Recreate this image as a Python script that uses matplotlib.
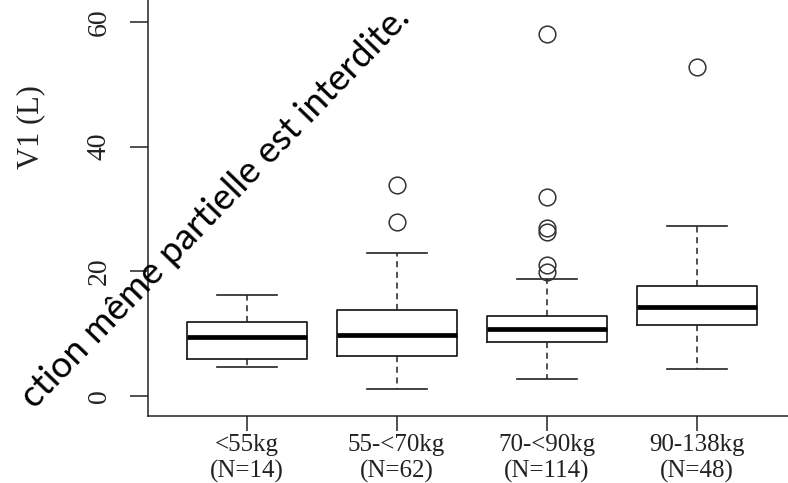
import matplotlib
matplotlib.use("Agg")
import matplotlib.pyplot as plt

# values
groups = ["<55kg\n(N=14)", "55-<70kg\n(N=62)", "70-<90kg\n(N=114)", "90-138kg\n(N=48)"]
q1 = [5.9, 6.5, 8.7, 11.4]
med = [9.5, 9.8, 10.7, 14.2]
q3 = [11.8, 13.8, 12.9, 17.7]
whislo = [4.6, 1.2, 2.8, 4.4]
whishi = [16.2, 23.0, 18.7, 27.2]
outliers = [
    [],
    [33.8, 27.9],
    [58.1, 31.9, 26.9, 26.3, 21.0, 19.9],
    [52.7],
]

stats = []
for i in range(len(groups)):
    stats.append({"q1": q1[i], "med": med[i], "q3": q3[i],
                  "whislo": whislo[i], "whishi": whishi[i],
                  "fliers": outliers[i]})

plt.rcParams['font.family'] = ['Liberation Serif', 'DejaVu Serif']

fig = plt.figure(figsize=(7.88, 4.83), dpi=100)
ax = fig.add_axes([0.1878, 0.1387, 0.8122, 0.8613])

ax.bxp(stats, positions=[1, 2, 3, 4], widths=0.8, showfliers=True,
       boxprops=dict(color='#222222', linewidth=1.3),
       medianprops=dict(color='black', linewidth=3.4),
       whiskerprops=dict(color='#222222', linewidth=1.1, linestyle=(0, (4, 3))),
       capprops=dict(color='#222222', linewidth=1.2),
       capwidths=0.4,
       flierprops=dict(marker='o', markersize=12, markerfacecolor='none',
                       markeredgecolor='#333333', markeredgewidth=1.1))

ax.set_xlim(0.342, 4.61)
ax.set_ylim(-3.2, 63.5)
ax.set_yticks([0, 20, 40, 60])
ax.set_yticklabels(["0", "20", "40", "60"], rotation=90, va='center')
ax.set_xticks([1, 2, 3, 4])
ax.set_xticklabels(groups, linespacing=1.2)
ax.tick_params(axis='y', length=13, width=1.1, pad=13, labelsize=20, colors='#222222')
ax.tick_params(axis='x', length=11, width=1.1, pad=2, labelsize=18, colors='#222222')

for s in ['top', 'right']:
    ax.spines[s].set_visible(False)
for s in ['left', 'bottom']:
    ax.spines[s].set_linewidth(1.1)
    ax.spines[s].set_color('#222222')

fig.text(31 / 788, 1 - 127 / 483, "V1 (L)", rotation=90, ha='center', va='center',
         fontsize=22, color='#222222')

# diagonal watermark running up to the top edge
fig.text(412 / 788, 1 - 20 / 483, "ction même partielle est interdite.",
         rotation=46, rotation_mode='anchor', ha='right', va='baseline',
         fontsize=26.5, family=['Lato', 'DejaVu Sans'], color='black')

fig.savefig("out.png", dpi=100)
